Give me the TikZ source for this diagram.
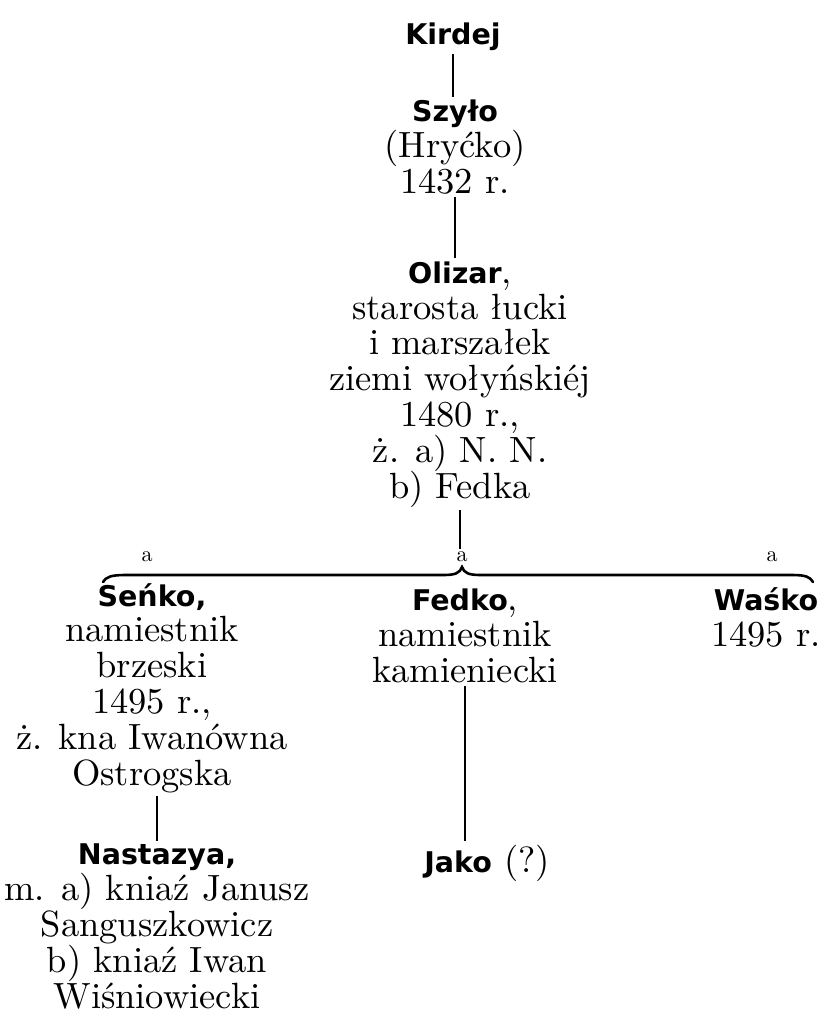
\documentclass[tikz,border=0pt]{standalone}
\usepackage{fontspec}
\setmainfont{lmroman10-regular.otf}
\newfontfamily\namefont{DejaVu Sans}
\newcommand{\nm}[1]{{\namefont\bfseries\fontsize{28.5}{35.8}\selectfont #1}}
\lineskiplimit=-50pt\relax

\begin{document}
\begin{tikzpicture}[x=1pt, y=-1pt,
    person/.style={align=center, anchor=base, inner sep=3pt,
        font=\fontsize{36.5}{35.8}\selectfont},
    lbl/.style={anchor=base, inner sep=2pt, font=\fontsize{22}{22}\selectfont},
    stem/.style={line width=1.2pt},
    bracket/.style={line width=2.6pt, line cap=round}]

    \def\bry{575}

    \useasboundingbox (0,0) rectangle (820,1014);

    % --- Ancestors (positions give the baseline of the last line) ---
    \node[person] (kirdej) at (453,45) {\nm{Kirdej}};
    \node[person] (szylo) at (455,193) {\nm{Szyło}\\(Hryćko)\\1432 r.};
    \node[person] (olizar) at (460,498)
        {\nm{Olizar},\\starosta łucki\\i marszałek\\ziemi wołyńskiéj\\1480 r.,\\ż. a) N. N.\\b) Fedka};

    % --- Sons ---
    \node[lbl] (aleft) at (147,561) {a};
    \node[lbl] (amid) at (462,561) {a};
    \node[lbl] (aright) at (772,561) {a};
    \node[person] (senko) at (152,785)
        {\nm{Seńko,}\\namiestnik\\brzeski\\1495 r.,\\ż. kna Iwanówna\\Ostrogska};
    \node[person] (fedko) at (465,682) {\nm{Fedko},\\namiestnik\\kamieniecki};
    \node[person] (wasko) at (766,646) {\nm{Waśko}\\1495 r.};

    % --- Grandchildren ---
    \node[person] (nastazya) at (157,1008)
        {\nm{Nastazya,}\\m. a) kniaź Janusz\\Sanguszkowicz\\b) kniaź Iwan\\Wiśniowiecki};
    \node[person] (jako) at (487,872) {\nm{Jako} (?)};

    % --- Descent lines ---
    \draw[stem] (kirdej.south) -- (kirdej.south |- szylo.north);
    \draw[stem] (szylo.south) -- (szylo.south |- olizar.north);
    \draw[stem] (olizar.south) -- (olizar.south |- amid.north);
    \draw[stem] (senko.south -| nastazya.north) -- (nastazya.north);
    \draw[stem] (fedko.south) -- (fedko.south |- jako.north);

    % --- Brace over the sons ---
    \coordinate (braceL) at (103,582);
    \coordinate (fork) at (462,567);
    \coordinate (braceR) at (813,582);
    \draw[bracket] (braceL) .. controls (106,577) and (111,\bry) .. (125,\bry)
        -- (444,\bry) .. controls (455,\bry) and (460,573) .. (fork)
        .. controls (464,573) and (469,\bry) .. (480,\bry)
        -- (792,\bry) .. controls (806,\bry) and (810,577) .. (braceR);

\end{tikzpicture}
\end{document}
